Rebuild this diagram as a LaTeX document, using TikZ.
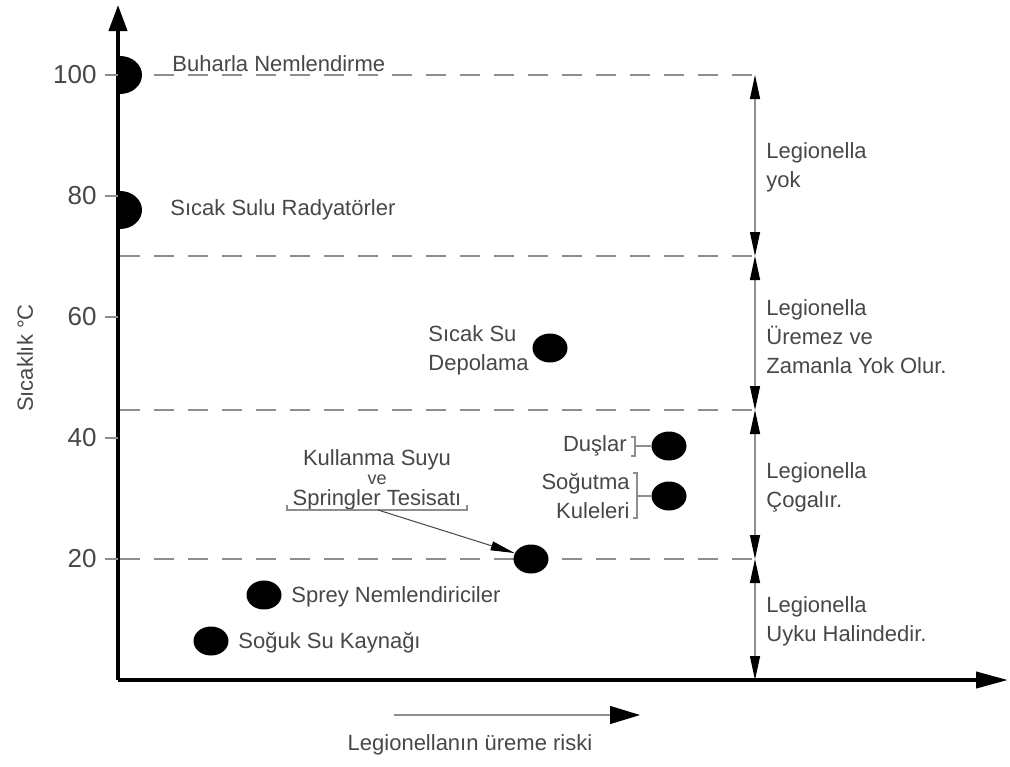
\documentclass[tikz,border=0pt]{standalone}
\usepackage{fontspec}
\setmainfont{Liberation Sans}
\usetikzlibrary{arrows.meta,shapes.geometric}
\definecolor{ChartInk}{HTML}{474747}
\definecolor{GuideGray}{HTML}{8E8E8E}

\begin{document}
\begin{tikzpicture}[
  x=0.5pt,y=-0.5pt,
  every node/.style={font=\fontsize{11}{14.5}\selectfont,text=ChartInk,inner sep=1pt},
  axis/.style={line width=2pt,-{Triangle[length=13pt,width=9pt]}},
  tick/.style={draw=GuideGray,line width=.6pt},
  ticklabel/.style={font=\fontsize{13}{15}\selectfont,anchor=east},
  guide/.style={draw=GuideGray,line width=.6pt,dash pattern=on 10pt off 7pt},
  dim/.style={draw=GuideGray,line width=.6pt,
    {Triangle[length=12pt,width=5pt,color=black]}-{Triangle[length=12pt,width=5pt,color=black]}},
  source/.style={ellipse,fill=black,minimum width=17.5pt,minimum height=14.5pt,inner sep=0pt},
  halfsource/.style={fill=black},
  srctext/.style={anchor=west,align=left},
  zone/.style={anchor=west,align=left},
  pointer/.style={draw=ChartInk,line width=.5pt,-{Triangle[length=12pt,width=4.5pt,color=black]}},
  bracket/.style={draw=GuideGray,line width=.6pt}
]
\useasboundingbox (0,0) rectangle (1010,766);
% axes
\coordinate (origin) at (118,680);
\coordinate (ytop) at (118,5);
\coordinate (xend) at (1008,680);
\draw[axis] (origin) -- (ytop);
\draw[axis,-{Triangle[length=16pt,width=8pt]}] (origin) -- (xend);
\foreach \val/\py in {100/75,80/196,60/317,40/438,20/559}{
  \draw[tick] (105,\py) -- (118,\py);
  \node[ticklabel] (tick\val) at (99,\py) {\val};
}
\node[rotate=90] (ylab) at (25,358) {Sıcaklık °C};
% limit lines
\foreach \py in {75,256,410,559}
  \draw[guide] (120,\py) -- (766,\py);
\coordinate (d100) at (755,75);
\coordinate (d70) at (755,256);
\coordinate (d45) at (755,410);
\coordinate (d20) at (755,559);
\coordinate (d0) at (755,680);
\draw[dim] (d100) -- (d70);
\draw[dim] (d70) -- (d45);
\draw[dim] (d45) -- (d20);
\draw[dim] (d20) -- (d0);
\node[zone] (zyok) at (764,167) {Legionella\\yok};
\node[zone] (zuremez) at (764,337) {Legionella\\Üremez ve\\Zamanla Yok Olur.};
\node[zone] (zcogal) at (764,487) {Legionella\\Çogalır.};
\node[zone] (zuyku) at (764,621) {Legionella\\Uyku Halindedir.};
% sources on the axis
\fill[halfsource] (120,94) arc[start angle=-90,end angle=90,x radius=11pt,y radius=9.5pt] -- cycle;
\fill[halfsource] (120,229) arc[start angle=-90,end angle=90,x radius=11pt,y radius=9.5pt] -- cycle;
\node[srctext] (buhar) at (170,64) {Buharla Nemlendirme};
\node[srctext] (radyator) at (168,210) {Sıcak Sulu Radyatörler};
% sources in the field
\node[source] (depo) at (550,348) {};
\node[srctext] (depotxt) at (426,350) {Sıcak Su\\Depolama};
\node[source] (dus) at (669,446) {};
\node[anchor=east] (dustxt) at (629,446) {Duşlar};
\draw[bracket] (631,437) -- (635,437) -- (635,456) -- (631,456);
\draw[bracket] (635,446) -- (dus.west);
\node[source] (kule) at (669,496) {};
\node[anchor=east,align=right] (kuletxt) at (632,496) {Soğutma\\Kuleleri};
\draw[bracket] (633,473) -- (637,473) -- (637,518) -- (633,518);
\draw[bracket] (637,496) -- (kule.west);
\node[source] (kus) at (531,559) {};
\node[align=center] (kustxt) at (377,480)
  {Kullanma Suyu\\[-5pt]{\fontsize{9}{9}\selectfont ve}\\[-4pt]Springler Tesisatı};
\draw[bracket] (287,505) -- (287,510) -- (467,510) -- (467,505);
\coordinate (kusfoot) at (378,510);
\draw[pointer] (kusfoot) -- (kus.160);
\node[source] (sprey) at (264,595) {};
\node[srctext] (spreytxt) at (289,597) {Sprey Nemlendiriciler};
\node[source] (soguk) at (211,641) {};
\node[srctext] (soguktxt) at (236,643) {Soğuk Su Kaynağı};
% risk direction
\coordinate (riskstart) at (394,715);
\coordinate (riskend) at (640,715);
\draw[draw=GuideGray,line width=.6pt,-{Triangle[length=15pt,width=9pt,color=black]}] (riskstart) -- (riskend);
\node (risktxt) at (470,745) {Legionellanın üreme riski};
\end{tikzpicture}
\end{document}
